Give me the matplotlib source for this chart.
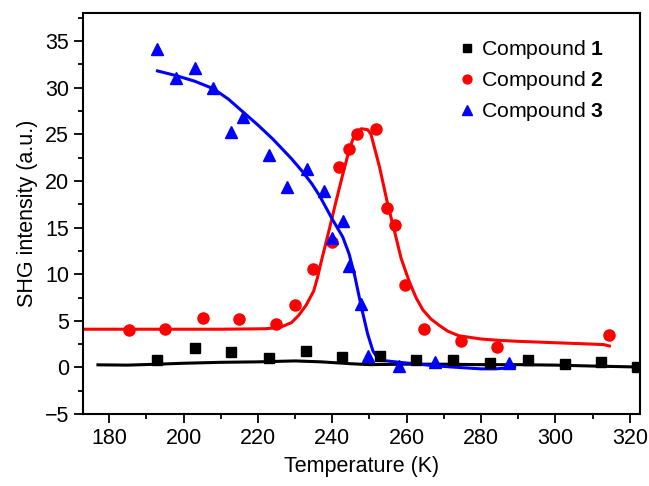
import numpy as np
import matplotlib.pyplot as plt
from matplotlib.ticker import MultipleLocator

plt.rcParams['font.family'] = ['Liberation Sans', 'DejaVu Sans']
plt.rcParams['mathtext.fontset'] = 'custom'
plt.rcParams['mathtext.bf'] = 'Liberation Sans:bold'

# measured points
t1 = [193, 203, 212.9, 222.9, 232.8, 242.6, 252.7, 262.5, 272.5, 282.5, 292.5, 302.5, 312.3, 322]
s1 = [0.82, 2.1, 1.7, 0.96, 1.75, 1.1, 1.18, 0.75, 0.75, 0.46, 0.82, 0.39, 0.54, 0.03]

t2 = [185.3, 195.1, 205.2, 214.9, 224.9, 229.9, 234.8, 239.9, 241.7, 244.6, 246.7, 251.7,
      254.7, 256.8, 259.6, 264.6, 274.6, 284.4, 314.4]
s2 = [4.04, 4.1, 5.3, 5.2, 4.7, 6.75, 10.6, 13.5, 21.5, 23.4, 25.0, 25.6,
      17.1, 15.25, 8.8, 4.15, 2.8, 2.2, 3.5]

t3 = [193, 197.9, 203.0, 207.9, 212.9, 216.0, 222.9, 227.8, 233.1, 237.9, 240.0, 242.8,
      244.6, 247.6, 249.5, 257.8, 267.7, 287.6]
s3 = [34.1, 31.05, 32.1, 30.0, 25.2, 26.9, 22.8, 19.3, 21.3, 18.9, 13.9, 15.7,
      10.9, 6.8, 1.2, 0.2, 0.57, 0.46]

# guide curves
ft1 = [177, 185, 193, 200, 210, 220, 230, 237, 245, 250, 260, 270, 280, 290, 300, 310, 322]
fs1 = [0.28, 0.25, 0.35, 0.45, 0.55, 0.6, 0.7, 0.6, 0.4, 0.3, 0.35, 0.35, 0.3, 0.3, 0.25, 0.15, 0.05]

ft2 = [173, 190, 210, 222, 226, 229, 231, 233, 235, 236, 237, 239, 241, 243, 244.6, 246,
       247.8, 249.5, 250.4, 252.7, 254.9, 256.8, 258.5, 260.7, 262.5, 264.3, 266.5, 268.8,
       271, 274, 280, 285, 290, 300, 310, 313, 314.5]
fs2 = [4.1, 4.1, 4.1, 4.15, 4.3, 4.8, 5.6, 6.7, 8.2, 9.6, 11.3, 14.5, 17.8, 21.0, 23.4, 25.0,
       25.6, 25.5, 25.0, 21.5, 17.5, 14.5, 11.7, 9.2, 7.5, 6.2, 5.2, 4.5,
       3.9, 3.4, 3.05, 2.9, 2.8, 2.65, 2.5, 2.45, 2.3]

ft3 = [193, 198, 203, 208, 212, 216, 220, 224, 229, 232, 234.5, 236.6, 240, 242.8, 244.5,
       246, 247.8, 249.5, 250.9, 252, 253.6, 258, 262, 267, 272, 276, 280, 284, 287, 289]
fs3 = [31.8, 31.3, 30.7, 29.9, 28.8, 27.4, 26.0, 24.5, 22.4, 21.0, 19.7, 18.4, 15.9, 14.0, 12.2,
       9.9, 6.5, 3.6, 1.8, 1.1, 0.75, 0.55, 0.4, 0.2, 0.05, -0.05, -0.15, -0.15, -0.05, 0.05]

fig = plt.figure(figsize=(6.49, 4.86), dpi=100)
ax = fig.add_axes([0.128, 0.148, 0.858, 0.825])

ax.plot(ft1, fs1, color='black', lw=2.2)
ax.plot(ft2, fs2, color='red', lw=2.2)
ax.plot(ft3, fs3, color='blue', lw=2.2)

ax.plot(t1, s1, 's', color='black', ms=7, label=r'Compound $\mathbf{1}$')
ax.plot(t2, s2, 'o', color='red', ms=8, label=r'Compound $\mathbf{2}$')
ax.plot(t3, s3, '^', color='blue', ms=9, label=r'Compound $\mathbf{3}$')

ax.set_xlim(173, 322.7)
ax.set_ylim(-5, 38)
ax.xaxis.set_major_locator(MultipleLocator(20))
ax.xaxis.set_minor_locator(MultipleLocator(10))
ax.yaxis.set_major_locator(MultipleLocator(5))
ax.yaxis.set_minor_locator(MultipleLocator(2.5))
ax.tick_params(which='major', length=6.5, width=1.3, labelsize=15.5, direction='out')
ax.tick_params(which='minor', length=3.5, width=1.3, direction='out')
for s in ax.spines.values():
    s.set_linewidth(1.5)

ax.set_xlabel('Temperature (K)', fontsize=15.5, labelpad=5)
ax.set_ylabel('SHG intensity (a.u.)', fontsize=15.5, labelpad=5)

ax.legend(loc='upper right', frameon=False, fontsize=15.3, handletextpad=0.25,
          handlelength=0.8, markerscale=0.8, labelspacing=0.38,
          bbox_to_anchor=(0.97, 0.985))

fig.savefig('out.png', dpi=100)
